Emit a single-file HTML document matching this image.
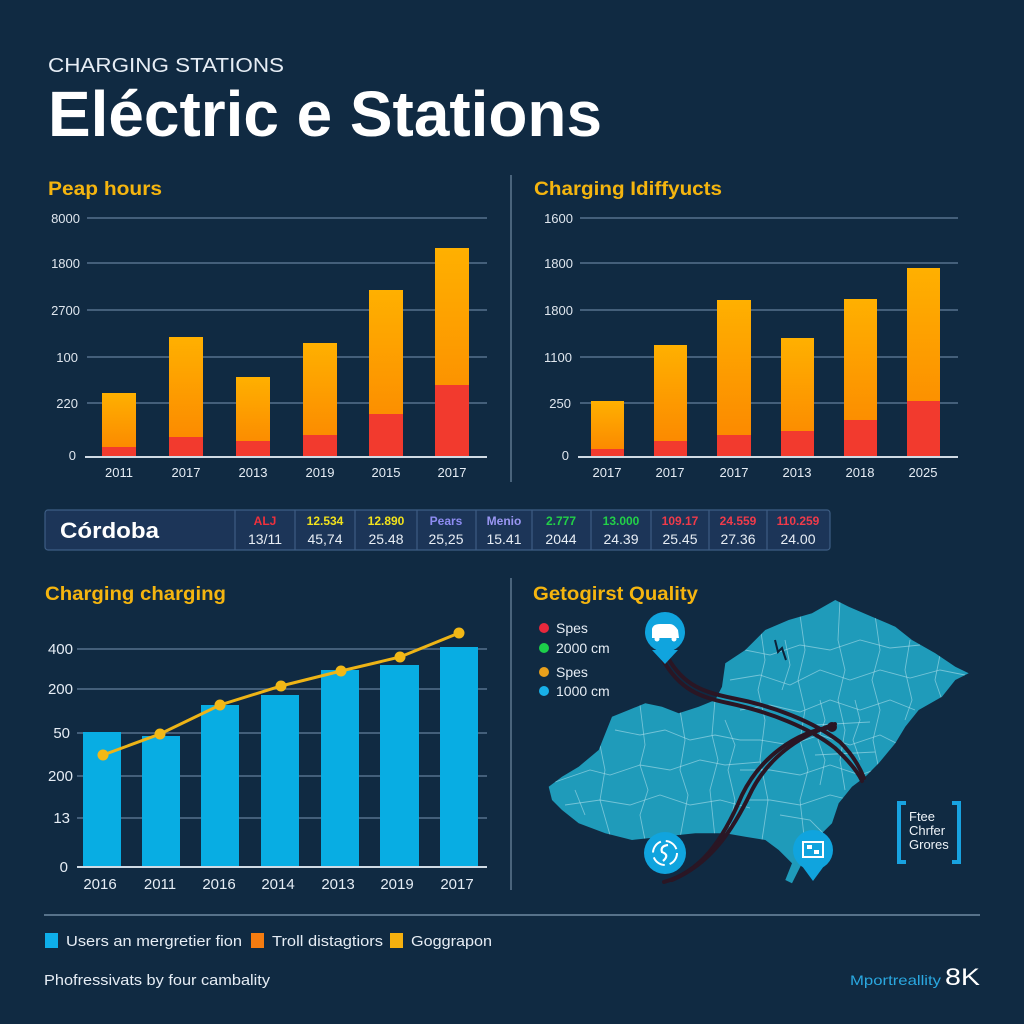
<!DOCTYPE html>
<html>
<head>
<meta charset="utf-8">
<style>
html,body{margin:0;padding:0;background:#102a42;}
svg{display:block;}
text{font-family:"Liberation Sans",sans-serif;}
</style>
</head>
<body>
<svg width="1024" height="1024" viewBox="0 0 1024 1024" xmlns="http://www.w3.org/2000/svg">
<defs>
<linearGradient id="og" x1="0" y1="0" x2="0" y2="1">
<stop offset="0" stop-color="#ffb000"/>
<stop offset="1" stop-color="#fb8400"/>
</linearGradient>
<clipPath id="mapclip">
<path id="mapshape" d="M548.7,786.7 L562,776.7 L578.7,766.7 L598.7,750 L612,716.7 L628.7,710 L645.3,703.3 L662,706.7 L678.7,713.3 L698.7,706.7 L715.3,700 L722,686.7 L725.3,663.3 L745.3,650 L765.3,630 L788.7,620 L812,613.3 L835.3,600 L848.7,606.7 L872,616.7 L895.3,626.7 L912,640 L935.3,653.3 L955.3,666.7 L968.7,673.3 L955.3,680 L942,696.7 L918.7,710 L905.3,726.7 L895.3,743.3 L878.7,763.3 L865.3,776.7 L852,786.7 L838.7,803.3 L832,823.3 L822,833.3 L812,843.3 L802,863.3 L792,883.3 L785.3,880 L792,863.3 L778.7,850 L765.3,840 L745.3,836.7 L725.3,833.3 L695.3,833.3 L662,836.7 L632,840 L605.3,833.3 L578.7,823.3 L562,810 L552,800 Z"/>
</clipPath>
</defs>
<rect width="1024" height="1024" fill="#102a42"/>

<!-- Header -->
<text x="48" y="72" font-size="20" fill="#e6edf5" textLength="236" lengthAdjust="spacingAndGlyphs">CHARGING STATIONS</text>
<text x="48" y="136" font-size="64" font-weight="bold" fill="#ffffff" textLength="554" lengthAdjust="spacingAndGlyphs">Eléctric e Stations</text>

<!-- Chart 1 -->
<text x="48" y="195" font-size="19" font-weight="bold" fill="#f5b50f" textLength="114" lengthAdjust="spacingAndGlyphs">Peap hours</text>
<g stroke="#56718c" stroke-width="1.5">
<line x1="87" y1="218" x2="487" y2="218"/>
<line x1="87" y1="263" x2="487" y2="263"/>
<line x1="87" y1="310" x2="487" y2="310"/>
<line x1="87" y1="357" x2="487" y2="357"/>
<line x1="87" y1="403" x2="487" y2="403"/>
</g>
<g font-size="13" fill="#dfe6ee" text-anchor="end">
<text x="80" y="223">8000</text>
<text x="80" y="268">1800</text>
<text x="80" y="315">2700</text>
<text x="78" y="362">100</text>
<text x="78" y="408">220</text>
<text x="76" y="460">0</text>
</g>
<g>
<rect x="102" y="393" width="34" height="64" fill="url(#og)"/><rect x="102" y="447" width="34" height="10" fill="#f23a2e"/>
<rect x="169" y="337" width="34" height="120" fill="url(#og)"/><rect x="169" y="437" width="34" height="20" fill="#f23a2e"/>
<rect x="236" y="377" width="34" height="80" fill="url(#og)"/><rect x="236" y="441" width="34" height="16" fill="#f23a2e"/>
<rect x="303" y="343" width="34" height="114" fill="url(#og)"/><rect x="303" y="435" width="34" height="22" fill="#f23a2e"/>
<rect x="369" y="290" width="34" height="167" fill="url(#og)"/><rect x="369" y="414" width="34" height="43" fill="#f23a2e"/>
<rect x="435" y="248" width="34" height="209" fill="url(#og)"/><rect x="435" y="385" width="34" height="72" fill="#f23a2e"/>
</g>
<line x1="85" y1="457" x2="487" y2="457" stroke="#d0dae4" stroke-width="2"/>
<g font-size="13" fill="#e6edf5" text-anchor="middle">
<text x="119" y="477">2011</text><text x="186" y="477">2017</text><text x="253" y="477">2013</text>
<text x="320" y="477">2019</text><text x="386" y="477">2015</text><text x="452" y="477">2017</text>
</g>

<!-- divider -->
<line x1="511" y1="175" x2="511" y2="482" stroke="#5d7790" stroke-width="1.5"/>

<!-- Chart 2 -->
<text x="534" y="195" font-size="19" font-weight="bold" fill="#f5b50f" textLength="188" lengthAdjust="spacingAndGlyphs">Charging Idiffyucts</text>
<g stroke="#56718c" stroke-width="1.5">
<line x1="580" y1="218" x2="958" y2="218"/>
<line x1="580" y1="263" x2="958" y2="263"/>
<line x1="580" y1="310" x2="958" y2="310"/>
<line x1="580" y1="357" x2="958" y2="357"/>
<line x1="580" y1="403" x2="958" y2="403"/>
</g>
<g font-size="13" fill="#dfe6ee" text-anchor="end">
<text x="573" y="223">1600</text>
<text x="573" y="268">1800</text>
<text x="573" y="315">1800</text>
<text x="572" y="362">1100</text>
<text x="571" y="408">250</text>
<text x="569" y="460">0</text>
</g>
<g>
<rect x="591" y="401" width="33" height="56" fill="url(#og)"/><rect x="591" y="449" width="33" height="8" fill="#f23a2e"/>
<rect x="654" y="345" width="33" height="112" fill="url(#og)"/><rect x="654" y="441" width="33" height="16" fill="#f23a2e"/>
<rect x="717" y="300" width="34" height="157" fill="url(#og)"/><rect x="717" y="435" width="34" height="22" fill="#f23a2e"/>
<rect x="781" y="338" width="33" height="119" fill="url(#og)"/><rect x="781" y="431" width="33" height="26" fill="#f23a2e"/>
<rect x="844" y="299" width="33" height="158" fill="url(#og)"/><rect x="844" y="420" width="33" height="37" fill="#f23a2e"/>
<rect x="907" y="268" width="33" height="189" fill="url(#og)"/><rect x="907" y="401" width="33" height="56" fill="#f23a2e"/>
</g>
<line x1="578" y1="457" x2="958" y2="457" stroke="#d0dae4" stroke-width="2"/>
<g font-size="13" fill="#e6edf5" text-anchor="middle">
<text x="607" y="477">2017</text><text x="670" y="477">2017</text><text x="734" y="477">2017</text>
<text x="797" y="477">2013</text><text x="860" y="477">2018</text><text x="923" y="477">2025</text>
</g>

<!-- Table -->
<rect x="45" y="510" width="785" height="40" rx="3" fill="#1c3558" stroke="#3d5d84" stroke-width="1.2"/>
<g stroke="#3d5d84" stroke-width="1.2">
<line x1="235" y1="510" x2="235" y2="550"/><line x1="295" y1="510" x2="295" y2="550"/>
<line x1="355" y1="510" x2="355" y2="550"/><line x1="417" y1="510" x2="417" y2="550"/>
<line x1="476" y1="510" x2="476" y2="550"/><line x1="532" y1="510" x2="532" y2="550"/>
<line x1="591" y1="510" x2="591" y2="550"/><line x1="651" y1="510" x2="651" y2="550"/>
<line x1="709" y1="510" x2="709" y2="550"/><line x1="767" y1="510" x2="767" y2="550"/>
</g>
<text x="60" y="538" font-size="22" font-weight="bold" fill="#ffffff" textLength="99" lengthAdjust="spacingAndGlyphs">Córdoba</text>
<g font-size="12" font-weight="bold" text-anchor="middle">
<text x="265" y="525" fill="#f0303c">ALJ</text>
<text x="325" y="525" fill="#f2e21c">12.534</text>
<text x="386" y="525" fill="#f2e21c">12.890</text>
<text x="446" y="525" fill="#8e8cf2">Pears</text>
<text x="504" y="525" fill="#9a96f2">Menio</text>
<text x="561" y="525" fill="#22d048">2.777</text>
<text x="621" y="525" fill="#22d048">13.000</text>
<text x="680" y="525" fill="#f03a4a">109.17</text>
<text x="738" y="525" fill="#f03a4a">24.559</text>
<text x="798" y="525" fill="#f03a4a">110.259</text>
</g>
<g font-size="14" fill="#e8eef5" text-anchor="middle">
<text x="265" y="544">13/11</text>
<text x="325" y="544">45,74</text>
<text x="386" y="544">25.48</text>
<text x="446" y="544">25,25</text>
<text x="504" y="544">15.41</text>
<text x="561" y="544">2044</text>
<text x="621" y="544">24.39</text>
<text x="680" y="544">25.45</text>
<text x="738" y="544">27.36</text>
<text x="798" y="544">24.00</text>
</g>

<!-- Chart 3 -->
<text x="45" y="600" font-size="19" font-weight="bold" fill="#f5b50f" textLength="181" lengthAdjust="spacingAndGlyphs">Charging charging</text>
<g stroke="#56718c" stroke-width="1.5">
<line x1="77" y1="649" x2="487" y2="649"/>
<line x1="77" y1="689" x2="487" y2="689"/>
<line x1="77" y1="733" x2="487" y2="733"/>
<line x1="77" y1="776" x2="487" y2="776"/>
<line x1="77" y1="818" x2="487" y2="818"/>
</g>
<g font-size="15" fill="#e6edf5" text-anchor="end">
<text x="73" y="654">400</text>
<text x="73" y="694">200</text>
<text x="70" y="738">50</text>
<text x="73" y="781">200</text>
<text x="70" y="823">13</text>
<text x="68" y="872">0</text>
</g>
<g fill="#08ade3">
<rect x="83" y="732" width="38" height="135"/>
<rect x="142" y="736" width="38" height="131"/>
<rect x="201" y="705" width="38" height="162"/>
<rect x="261" y="695" width="38" height="172"/>
<rect x="321" y="670" width="38" height="197"/>
<rect x="380" y="665" width="39" height="202"/>
<rect x="440" y="647" width="38" height="220"/>
</g>
<line x1="77" y1="867" x2="487" y2="867" stroke="#d0dae4" stroke-width="2"/>
<polyline points="103,755 160,734 220,705 281,686 341,671 400,657 459,633" fill="none" stroke="#eeb416" stroke-width="3"/>
<g fill="#f2b816">
<circle cx="103" cy="755" r="5.5"/><circle cx="160" cy="734" r="5.5"/><circle cx="220" cy="705" r="5.5"/>
<circle cx="281" cy="686" r="5.5"/><circle cx="341" cy="671" r="5.5"/><circle cx="400" cy="657" r="5.5"/>
<circle cx="459" cy="633" r="5.5"/>
</g>
<g font-size="15" fill="#e6edf5" text-anchor="middle">
<text x="100" y="889">2016</text><text x="160" y="889">2011</text><text x="219" y="889">2016</text>
<text x="278" y="889">2014</text><text x="338" y="889">2013</text><text x="397" y="889">2019</text>
<text x="457" y="889">2017</text>
</g>

<!-- divider 2 -->
<line x1="511" y1="578" x2="511" y2="890" stroke="#5d7790" stroke-width="1.5"/>

<!-- Map panel -->
<text x="533" y="600" font-size="19" font-weight="bold" fill="#f5b50f" textLength="165" lengthAdjust="spacingAndGlyphs">Getogirst Quality</text>
<circle cx="544" cy="628" r="5" fill="#e8283c"/>
<circle cx="544" cy="648" r="5" fill="#1ccf4a"/>
<circle cx="544" cy="672" r="5" fill="#e8a01c"/>
<circle cx="544" cy="691" r="5" fill="#18b0e8"/>
<g font-size="14" fill="#e6edf5">
<text x="556" y="633">Spes</text>
<text x="556" y="653">2000 cm</text>
<text x="556" y="677">Spes</text>
<text x="556" y="696">1000 cm</text>
</g>

<use href="#mapshape" fill="#1f9bba"/>
<g clip-path="url(#mapclip)" fill="none" stroke="#b8e4ef" stroke-opacity="0.55" stroke-width="0.9">
<path d="M555,782 L590,770 L610,775 L640,765 L670,770 L700,760 L725,765 L760,762"/>
<path d="M565,805 L600,800 L630,805 L660,795 L690,805 L720,800 L750,808"/>
<path d="M600,745 L605,770 L600,800 L610,835"/>
<path d="M640,705 L645,745 L640,765 L648,790 L640,815 L645,840"/>
<path d="M680,710 L685,740 L680,770 L688,795 L680,838"/>
<path d="M715,700 L712,735 L718,760 L710,790 L715,838"/>
<path d="M615,730 L640,735 L665,730 L690,740 L715,735 L740,740"/>
<path d="M575,790 L585,815"/>
<path d="M730,680 L760,675 L790,685 L820,670 L850,680 L880,670 L910,678 L940,670 L965,675"/>
<path d="M745,650 L770,655 L800,645 L830,650 L860,640 L890,648 L920,645"/>
<path d="M740,710 L770,705 L800,712 L830,700 L860,710 L890,700 L915,710"/>
<path d="M740,740 L760,740 L790,745 L820,735 L850,745 L880,735 L900,745"/>
<path d="M740,770 L770,770 L800,775 L830,765 L860,775 L880,768"/>
<path d="M745,800 L770,800 L800,805 L830,795 L850,800"/>
<path d="M760,625 L765,660 L758,690 L765,720 L760,760 L768,800 L762,840"/>
<path d="M800,615 L805,650 L798,680 L805,710 L800,740 L808,770 L800,800 L805,845"/>
<path d="M840,600 L838,640 L845,670 L838,700 L845,730 L840,760 L845,790"/>
<path d="M875,615 L880,650 L872,680 L880,710 L873,740 L878,765"/>
<path d="M910,640 L905,670 L912,700 L905,720"/>
<path d="M940,655 L935,680 L942,700"/>
<path d="M820,700 L825,720 L818,740 L825,760 L820,785"/>
<path d="M855,700 L860,720 L853,740 L860,760"/>
<path d="M815,725 L870,722"/>
<path d="M815,755 L875,752"/>
<path d="M785,640 L790,665 L782,690"/>
<path d="M725,720 L735,745 L728,770 L735,800 L728,835"/>
<path d="M780,815 L810,820 L825,835"/>
</g>
<path d="M775,640 L778,652 L782,648 L786,660" fill="none" stroke="#0d2238" stroke-width="2"/>

<!-- routes -->
<g fill="none" stroke="#2a1624" stroke-width="4" stroke-linecap="round">
<path d="M663,660 C680,690 700,697 728,703 C770,712 810,728 835,748 C850,762 858,772 862,781"/>
<path d="M668,658 C684,686 704,692 732,698 C774,706 814,722 840,742 C853,755 860,768 864,778"/>
<path d="M664,882 C700,872 722,842 742,795 C760,758 795,732 832,727"/>
<path d="M672,880 C710,864 732,832 752,790 C772,752 805,734 835,724"/>
</g>
<circle cx="832" cy="727" r="5" fill="#2a1624"/>

<!-- pins -->
<path d="M652,650 L665,664 L678,650 Z" fill="#10a4de"/>
<circle cx="665" cy="632" r="20" fill="#10a4de"/>
<path d="M652,638 L652,629 Q653,624 660,624 L670,624 Q674,624 678,630 L679,638 Z" fill="#ffffff"/>
<circle cx="657" cy="639" r="2.5" fill="#ffffff"/><circle cx="674" cy="639" r="2.5" fill="#ffffff"/>

<circle cx="665" cy="853" r="21" fill="#10a4de"/>
<circle cx="665" cy="853" r="12" fill="none" stroke="#ffffff" stroke-width="2" stroke-dasharray="14 5"/>
<path d="M668,845 Q660,846 662,852 Q670,855 663,861" fill="none" stroke="#ffffff" stroke-width="2.2"/>

<path d="M802,866 L813,881 L824,866 Z" fill="#10a4de"/>
<circle cx="813" cy="850" r="20" fill="#10a4de"/>
<rect x="803" y="842" width="20" height="15" fill="none" stroke="#ffffff" stroke-width="2"/>
<rect x="807" y="845" width="5" height="4" fill="#ffffff"/>
<rect x="814" y="850" width="5" height="4" fill="#ffffff"/>

<!-- bracket box -->
<g fill="none" stroke="#18a2e0" stroke-width="4">
<path d="M906,803 L899,803 L899,862 L906,862"/>
<path d="M952,803 L959,803 L959,862 L952,862"/>
</g>
<g font-size="13" fill="#eef3f8">
<text x="909" y="821">Ftee</text>
<text x="909" y="835">Chrfer</text>
<text x="909" y="849">Grores</text>
</g>

<!-- footer -->
<line x1="44" y1="915" x2="980" y2="915" stroke="#6f8aa2" stroke-width="1.5"/>
<rect x="45" y="933" width="13" height="15" fill="#0eaeea"/>
<text x="66" y="946" font-size="15" fill="#e6edf5" textLength="176" lengthAdjust="spacingAndGlyphs">Users an mergretier fion</text>
<rect x="251" y="933" width="13" height="15" fill="#f57c10"/>
<text x="272" y="946" font-size="15" fill="#e6edf5" textLength="111" lengthAdjust="spacingAndGlyphs">Troll distagtiors</text>
<rect x="390" y="933" width="13" height="15" fill="#f5b00f"/>
<text x="411" y="946" font-size="15" fill="#e6edf5" textLength="81" lengthAdjust="spacingAndGlyphs">Goggrapon</text>

<text x="44" y="985" font-size="15" fill="#e6edf5" textLength="226" lengthAdjust="spacingAndGlyphs">Phofressivats by four cambality</text>
<text x="850" y="985" font-size="14" fill="#2aa8e0" textLength="91" lengthAdjust="spacingAndGlyphs">Mportreallity</text>
<text x="945" y="985" font-size="24" fill="#ffffff" textLength="35" lengthAdjust="spacingAndGlyphs">8K</text>
</svg>
</body>
</html>
